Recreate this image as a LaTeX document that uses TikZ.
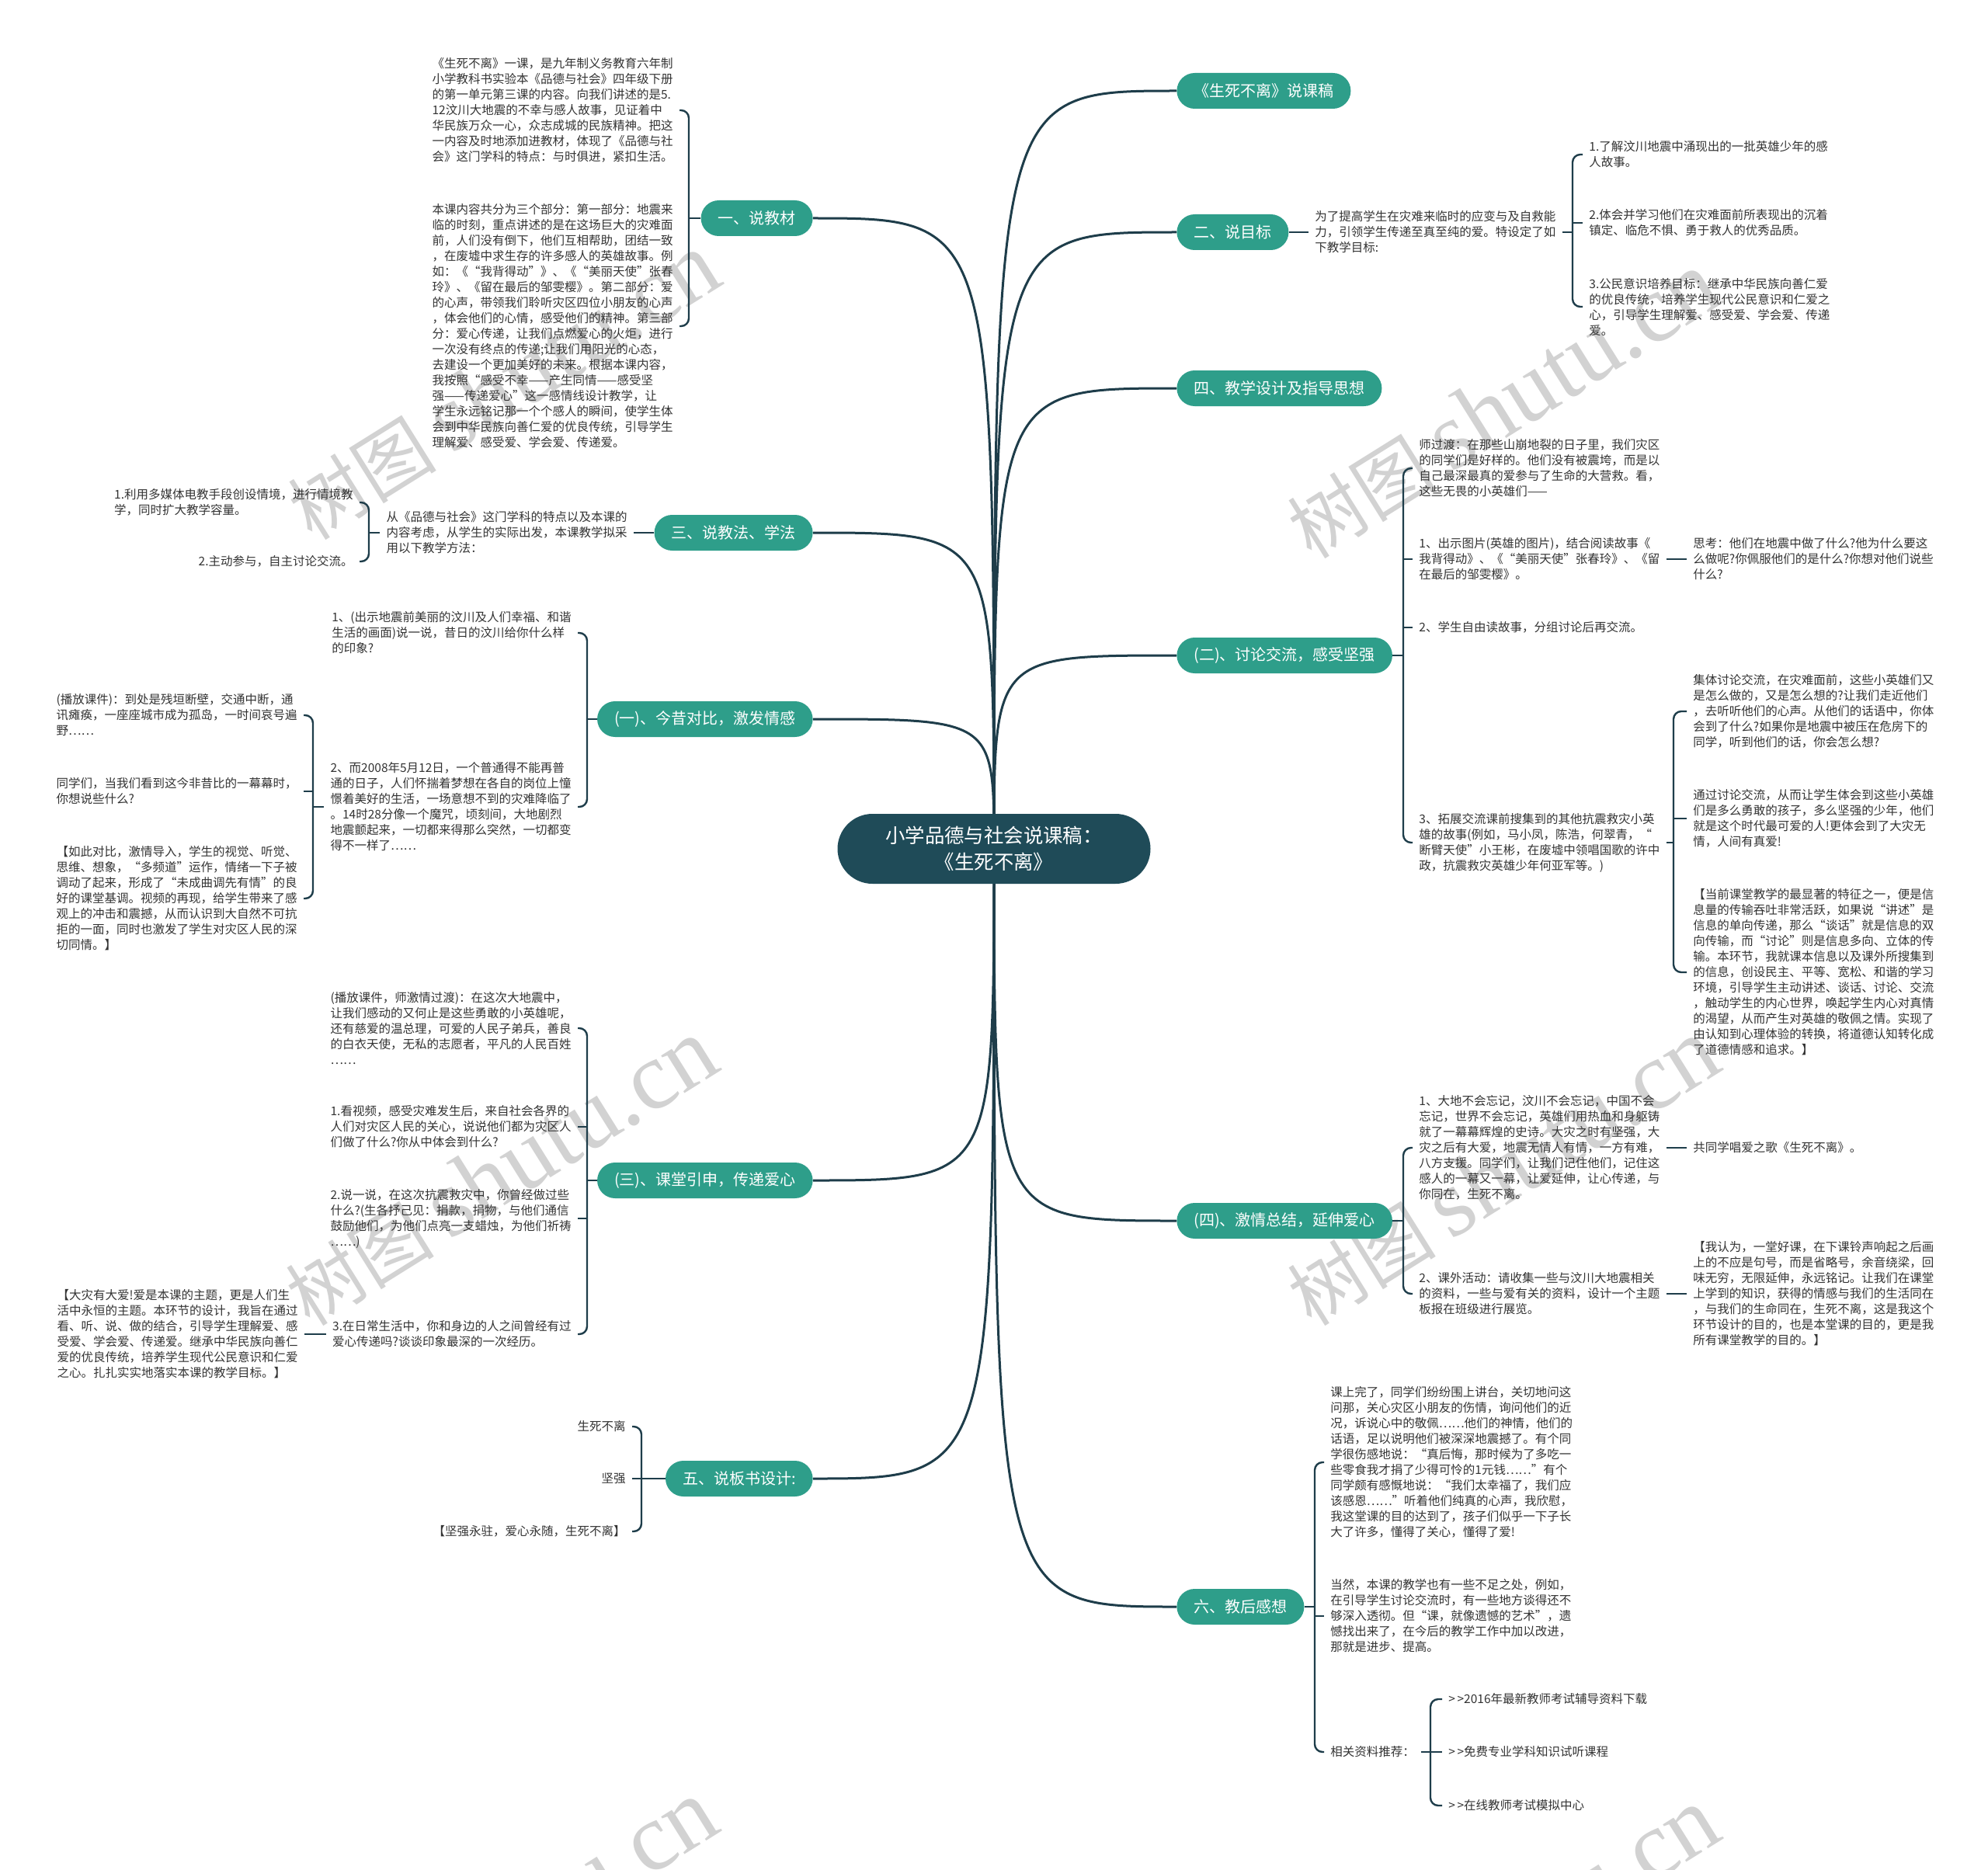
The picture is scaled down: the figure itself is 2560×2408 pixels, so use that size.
\documentclass[tikz,border=0pt]{standalone}
\usepackage{fontspec}
\newfontfamily\cjk{Noto Sans CJK SC}
\newfontfamily\wmlat{Liberation Serif}
\usetikzlibrary{backgrounds}
\definecolor{lc}{HTML}{1E3D4A}
\definecolor{tc}{HTML}{2E9E8A}
\definecolor{cc}{HTML}{1F4B58}
\definecolor{txc}{HTML}{333333}
\definecolor{wmc}{HTML}{D2D2D2}
\begin{document}
\begin{tikzpicture}[x=0.5pt,y=-0.5pt,
  mainlink/.style={draw=lc, line width=1.5pt},
  stem/.style={draw=lc, line width=1.2pt},
  brk/.style={draw=lc, line width=1.2pt, rounded corners=5pt},
  ctrn/.style={fill=cc, text=white, rounded corners=22.5pt, minimum width=201.5pt, minimum height=45pt, align=center, font=\cjk\fontsize{12.7}{17}\selectfont},
  lvl/.style={fill=tc, text=white, rounded corners=11.5pt, minimum height=23pt, inner xsep=11pt, inner ysep=0pt, font=\cjk\fontsize{10}{12}\selectfont},
  txt/.style={font=\cjk\fontsize{7.75}{10}\selectfont, align=left, inner xsep=4pt, inner ysep=1pt, text=txc},
  wm/.style={text=wmc, rotate=32, inner sep=0pt}
]
\useasboundingbox (0,0) rectangle (2560,2408);

% ---------- centre ----------
\node[ctrn] (c) at (1280,1093) {小学品德与社会说课稿：\\《生死不离》};

% ---------- level 1, right ----------
\node[lvl, anchor=west] (n10) at (1515,117) {《生死不离》说课稿};
\node[lvl, anchor=west] (n2) at (1515,299) {二、说目标};
\node[lvl, anchor=west] (n11) at (1515,500) {四、教学设计及指导思想};
\node[lvl, anchor=west] (n6) at (1515,844) {(二)、讨论交流，感受坚强};
\node[lvl, anchor=west] (n7) at (1515,1572) {(四)、激情总结，延伸爱心};
\node[lvl, anchor=west] (n8) at (1515,2069) {六、教后感想};

% ---------- level 1, left ----------
\node[lvl, anchor=east] (n1) at (1047,281) {一、说教材};
\node[lvl, anchor=east] (n3) at (1047,686) {三、说教法、学法};
\node[lvl, anchor=east] (n4) at (1047,926) {(一)、今昔对比，激发情感};
\node[lvl, anchor=east] (n5) at (1047,1520) {(三)、课堂引申，传递爱心};
\node[lvl, anchor=east] (n9) at (1047,1904) {五、说板书设计:};

% ---------- 一、说教材 ----------
\coordinate (b1) at (887,281);
\node[txt, anchor=east] (t1a) at (875,142) {《生死不离》一课，是九年制义务教育六年制\\小学教科书实验本《品德与社会》四年级下册\\的第一单元第三课的内容。向我们讲述的是5.\\12汶川大地震的不幸与感人故事，见证着中\\华民族万众一心，众志成城的民族精神。把这\\一内容及时地添加进教材，体现了《品德与社\\会》这门学科的特点：与时俱进，紧扣生活。};
\node[txt, anchor=east] (t1b) at (875,420) {本课内容共分为三个部分：第一部分：地震来\\临的时刻，重点讲述的是在这场巨大的灾难面\\前，人们没有倒下，他们互相帮助，团结一致\\，在废墟中求生存的许多感人的英雄故事。例\\如：《“我背得动”》、《“美丽天使”张春\\玲》、《留在最后的邹雯樱》。第二部分：爱\\的心声，带领我们聆听灾区四位小朋友的心声\\，体会他们的心情，感受他们的精神。第三部\\分：爱心传递，让我们点燃爱心的火炬，进行\\一次没有终点的传递;让我们用阳光的心态，\\去建设一个更加美好的未来。根据本课内容，\\我按照“感受不幸——产生同情——感受坚\\强——传递爱心”这一感情线设计教学，让\\学生永远铭记那一个个感人的瞬间，使学生体\\会到中华民族向善仁爱的优良传统，引导学生\\理解爱、感受爱、学会爱、传递爱。};

% ---------- 三、说教法、学法 ----------
\node[txt, anchor=east] (t3) at (816,686) {从《品德与社会》这门学科的特点以及本课的\\内容考虑，从学生的实际出发，本课教学拟采\\用以下教学方法：};
\coordinate (b3) at (475,686);
\node[txt, anchor=east] (t3a) at (463,647) {1.利用多媒体电教手段创设情境，进行情境教\\学，同时扩大教学容量。};
\node[txt, anchor=east] (t3b) at (463,723) {2.主动参与，自主讨论交流。};

% ---------- (一) ----------
\coordinate (b4) at (756,926);
\node[txt, anchor=east] (t4a) at (744,815) {1、(出示地震前美丽的汶川及人们幸福、和谐\\生活的画面)说一说，昔日的汶川给你什么样\\的印象?};
\node[txt, anchor=east] (t4b) at (744,1039) {2、而2008年5月12日，一个普通得不能再普\\通的日子，人们怀揣着梦想在各自的岗位上憧\\憬着美好的生活，一场意想不到的灾难降临了\\。14时28分像一个魔咒，顷刻间，大地剧烈\\地震颤起来，一切都来得那么突然，一切都变\\得不一样了……};
\coordinate (b4b) at (403,1039);
\node[txt, anchor=east] (t4c) at (391,921) {(播放课件)：到处是残垣断壁，交通中断，通\\讯瘫痪，一座座城市成为孤岛，一时间哀号遍\\野……};
\node[txt, anchor=east] (t4d) at (391,1019) {同学们，当我们看到这今非昔比的一幕幕时，\\你想说些什么?};
\node[txt, anchor=east] (t4e) at (391,1157) {【如此对比，激情导入，学生的视觉、听觉、\\思维、想象，“多频道”运作，情绪一下子被\\调动了起来，形成了“未成曲调先有情”的良\\好的课堂基调。视频的再现，给学生带来了感\\观上的冲击和震撼，从而认识到大自然不可抗\\拒的一面，同时也激发了学生对灾区人民的深\\切同情。】};

% ---------- (三) ----------
\coordinate (b5) at (756,1520);
\node[txt, anchor=east] (t5a) at (744,1324) {(播放课件，师激情过渡)：在这次大地震中，\\让我们感动的又何止是这些勇敢的小英雄呢，\\还有慈爱的温总理，可爱的人民子弟兵，善良\\的白衣天使，无私的志愿者，平凡的人民百姓\\……};
\node[txt, anchor=east] (t5b) at (744,1451) {1.看视频，感受灾难发生后，来自社会各界的\\人们对灾区人民的关心，说说他们都为灾区人\\们做了什么?你从中体会到什么?};
\node[txt, anchor=east] (t5c) at (744,1569) {2.说一说，在这次抗震救灾中，你曾经做过些\\什么?(生各抒己见：捐款，捐物，与他们通信\\鼓励他们，为他们点亮一支蜡烛，为他们祈祷\\……)};
\node[txt, anchor=east] (t5d) at (744,1718) {3.在日常生活中，你和身边的人之间曾经有过\\爱心传递吗?谈谈印象最深的一次经历。};
\node[txt, anchor=east] (t5e) at (392,1718) {【大灾有大爱!爱是本课的主题，更是人们生\\活中永恒的主题。本环节的设计，我旨在通过\\看、听、说、做的结合，引导学生理解爱、感\\受爱、学会爱、传递爱。继承中华民族向善仁\\爱的优良传统，培养学生现代公民意识和仁爱\\之心。扎扎实实地落实本课的教学目标。】};

% ---------- 五 ----------
\coordinate (b9) at (826,1904);
\node[txt, anchor=east] (t9a) at (814,1837) {生死不离};
\node[txt, anchor=east] (t9b) at (814,1904) {坚强};
\node[txt, anchor=east] (t9c) at (814,1972) {【坚强永驻，爱心永随，生死不离】};

% ---------- 二、说目标 ----------
\node[txt, anchor=west] (t2) at (1685,299) {为了提高学生在灾难来临时的应变与及自救能\\力，引领学生传递至真至纯的爱。特设定了如\\下教学目标:};
\coordinate (b2) at (2025,299);
\node[txt, anchor=west] (t2a) at (2038,199) {1.了解汶川地震中涌现出的一批英雄少年的感\\人故事。};
\node[txt, anchor=west] (t2b) at (2038,287) {2.体会并学习他们在灾难面前所表现出的沉着\\镇定、临危不惧、勇于救人的优秀品质。};
\node[txt, anchor=west] (t2c) at (2038,395) {3.公民意识培养目标：继承中华民族向善仁爱\\的优良传统，培养学生现代公民意识和仁爱之\\心，引导学生理解爱、感受爱、学会爱、传递\\爱。};

% ---------- (二) ----------
\coordinate (b6) at (1807,844);
\node[txt, anchor=west] (t6a) at (1819,603) {师过渡：在那些山崩地裂的日子里，我们灾区\\的同学们是好样的。他们没有被震垮，而是以\\自己最深最真的爱参与了生命的大营救。看，\\这些无畏的小英雄们——};
\node[txt, anchor=west] (t6b) at (1819,720) {1、出示图片(英雄的图片)，结合阅读故事《\\我背得动》、《“美丽天使”张春玲》、《留\\在最后的邹雯樱》。};
\node[txt, anchor=west] (t6b1) at (2172,720) {思考：他们在地震中做了什么?他为什么要这\\么做呢?你佩服他们的是什么?你想对他们说些\\什么?};
\node[txt, anchor=west] (t6c) at (1819,808) {2、学生自由读故事，分组讨论后再交流。};
\node[txt, anchor=west] (t6d) at (1819,1085) {3、拓展交流课前搜集到的其他抗震救灾小英\\雄的故事(例如，马小凤，陈浩，何翠青，“\\断臂天使”小王彬，在废墟中领唱国歌的许中\\政，抗震救灾英雄少年何亚军等。)};
\coordinate (b6d) at (2155,1085);
\node[txt, anchor=west] (t6d1) at (2172,916) {集体讨论交流，在灾难面前，这些小英雄们又\\是怎么做的，又是怎么想的?让我们走近他们\\，去听听他们的心声。从他们的话语中，你体\\会到了什么?如果你是地震中被压在危房下的\\同学，听到他们的话，你会怎么想?};
\node[txt, anchor=west] (t6d2) at (2172,1054) {通过讨论交流，从而让学生体会到这些小英雄\\们是多么勇敢的孩子，多么坚强的少年，他们\\就是这个时代最可爱的人!更体会到了大灾无\\情，人间有真爱!};
\node[txt, anchor=west] (t6d3) at (2172,1252) {【当前课堂教学的最显著的特征之一，便是信\\息量的传输吞吐非常活跃，如果说“讲述”是\\信息的单向传递，那么“谈话”就是信息的双\\向传输，而“讨论”则是信息多向、立体的传\\输。本环节，我就课本信息以及课外所搜集到\\的信息，创设民主、平等、宽松、和谐的学习\\环境，引导学生主动讲述、谈话、讨论、交流\\，触动学生的内心世界，唤起学生内心对真情\\的渴望，从而产生对英雄的敬佩之情。实现了\\由认知到心理体验的转换，将道德认知转化成\\了道德情感和追求。】};

% ---------- (四) ----------
\coordinate (b7) at (1807,1572);
\node[txt, anchor=west] (t7a) at (1819,1478) {1、大地不会忘记，汶川不会忘记，中国不会\\忘记，世界不会忘记，英雄们用热血和身躯铸\\就了一幕幕辉煌的史诗。大灾之时有坚强，大\\灾之后有大爱，地震无情人有情，一方有难，\\八方支援。同学们，让我们记住他们，记住这\\感人的一幕又一幕，让爱延伸，让心传递，与\\你同在，生死不离。};
\node[txt, anchor=west] (t7a1) at (2172,1478) {共同学唱爱之歌《生死不离》。};
\node[txt, anchor=west] (t7b) at (1819,1666) {2、课外活动：请收集一些与汶川大地震相关\\的资料，一些与爱有关的资料，设计一个主题\\板报在班级进行展览。};
\node[txt, anchor=west] (t7b1) at (2172,1666) {【我认为，一堂好课，在下课铃声响起之后画\\上的不应是句号，而是省略号，余音绕梁，回\\味无穷，无限延伸，永远铭记。让我们在课堂\\上学到的知识，获得的情感与我们的生活同在\\，与我们的生命同在，生死不离，这是我这个\\环节设计的目的，也是本堂课的目的，更是我\\所有课堂教学的目的。】};

% ---------- 六 ----------
\coordinate (b8) at (1693,2069);
\node[txt, anchor=west] (t8a) at (1705,1883) {课上完了，同学们纷纷围上讲台，关切地问这\\问那，关心灾区小朋友的伤情，询问他们的近\\况，诉说心中的敬佩……他们的神情，他们的\\话语，足以说明他们被深深地震撼了。有个同\\学很伤感地说：“真后悔，那时候为了多吃一\\些零食我才捐了少得可怜的1元钱……”有个\\同学颇有感慨地说：“我们太幸福了，我们应\\该感恩……”听着他们纯真的心声，我欣慰，\\我这堂课的目的达到了，孩子们似乎一下子长\\大了许多，懂得了关心，懂得了爱!};
\node[txt, anchor=west] (t8b) at (1705,2081) {当然，本课的教学也有一些不足之处，例如，\\在引导学生讨论交流时，有一些地方谈得还不\\够深入透彻。但“课，就像遗憾的艺术”，遗\\憾找出来了，在今后的教学工作中加以改进，\\那就是进步、提高。};
\node[txt, anchor=west] (t8c) at (1705,2256) {相关资料推荐：};
\coordinate (b8c) at (1842,2256);
\node[txt, anchor=west] (t8c1) at (1857,2188) {>\,>2016年最新教师考试辅导资料下载};
\node[txt, anchor=west] (t8c2) at (1857,2256) {>\,>免费专业学科知识试听课程};
\node[txt, anchor=west] (t8c3) at (1857,2325) {>\,>在线教师考试模拟中心};

\begin{scope}[on background layer]
\fill[white] (0,0) rectangle (2560,2408);
% watermarks
\foreach \p in {(648,498),(1935,522),(645,1510),(1935,1510),(645,2490),(1935,2500)}
  \node[wm] at \p {{\cjk\fontsize{48}{48}\selectfont 树图}\hspace{10pt}{\wmlat\fontsize{62}{62}\selectfont shutu.cn}};

% main curves
\foreach \n in {n10,n2,n11,n6,n7,n8}
  \draw[mainlink] (c.center) .. controls (c.center |- \n.west) and (c.center |- \n.west) .. (\n.west);
\foreach \n in {n1,n3,n4,n5,n9}
  \draw[mainlink] (c.center) .. controls (c.center |- \n.east) and (c.center |- \n.east) .. (\n.east);

% 一
\draw[stem] (n1.west) -- (b1);
\draw[brk] (t1a.east) -- (b1 |- t1a.east) -- (b1 |- t1b.east) -- (t1b.east);
% 三
\draw[stem] (n3.west) -- (t3.east);
\draw[stem] (t3.west) -- (b3);
\draw[brk] (t3a.east) -- (b3 |- t3a.east) -- (b3 |- t3b.east) -- (t3b.east);
% (一)
\draw[stem] (n4.west) -- (b4);
\draw[brk] (t4a.east) -- (b4 |- t4a.east) -- (b4 |- t4b.east) -- (t4b.east);
\draw[stem] (t4b.west) -- (b4b);
\draw[brk] (t4c.east) -- (b4b |- t4c.east) -- (b4b |- t4e.east) -- (t4e.east);
\draw[stem] (b4b |- t4d.east) -- (t4d.east);
% (三)
\draw[stem] (n5.west) -- (b5);
\draw[brk] (t5a.east) -- (b5 |- t5a.east) -- (b5 |- t5d.east) -- (t5d.east);
\draw[stem] (b5 |- t5b.east) -- (t5b.east);
\draw[stem] (b5 |- t5c.east) -- (t5c.east);
\draw[stem] (t5d.west) -- (t5e.east);
% 五
\draw[stem] (n9.west) -- (b9);
\draw[brk] (t9a.east) -- (b9 |- t9a.east) -- (b9 |- t9c.east) -- (t9c.east);
\draw[stem] (b9 |- t9b.east) -- (t9b.east);
% 二
\draw[stem] (n2.east) -- (t2.west);
\draw[stem] (t2.east) -- (b2);
\draw[brk] (t2a.west) -- (b2 |- t2a.west) -- (b2 |- t2c.west) -- (t2c.west);
\draw[stem] (b2 |- t2b.west) -- (t2b.west);
% (二)
\draw[stem] (n6.east) -- (b6);
\draw[brk] (t6a.west) -- (b6 |- t6a.west) -- (b6 |- t6d.west) -- (t6d.west);
\draw[stem] (b6 |- t6b.west) -- (t6b.west);
\draw[stem] (b6 |- t6c.west) -- (t6c.west);
\draw[stem] (t6b.east) -- (t6b1.west);
\draw[stem] (t6d.east) -- (b6d);
\draw[brk] (t6d1.west) -- (b6d |- t6d1.west) -- (b6d |- t6d3.west) -- (t6d3.west);
\draw[stem] (b6d |- t6d2.west) -- (t6d2.west);
% (四)
\draw[stem] (n7.east) -- (b7);
\draw[brk] (t7a.west) -- (b7 |- t7a.west) -- (b7 |- t7b.west) -- (t7b.west);
\draw[stem] (t7a.east) -- (t7a1.west);
\draw[stem] (t7b.east) -- (t7b1.west);
% 六
\draw[stem] (n8.east) -- (b8);
\draw[brk] (t8a.west) -- (b8 |- t8a.west) -- (b8 |- t8c.west) -- (t8c.west);
\draw[stem] (b8 |- t8b.west) -- (t8b.west);
\draw[stem] (t8c.east) -- (b8c);
\draw[brk] (t8c1.west) -- (b8c |- t8c1.west) -- (b8c |- t8c3.west) -- (t8c3.west);
\draw[stem] (b8c |- t8c2.west) -- (t8c2.west);
\end{scope}
\end{tikzpicture}
\end{document}
